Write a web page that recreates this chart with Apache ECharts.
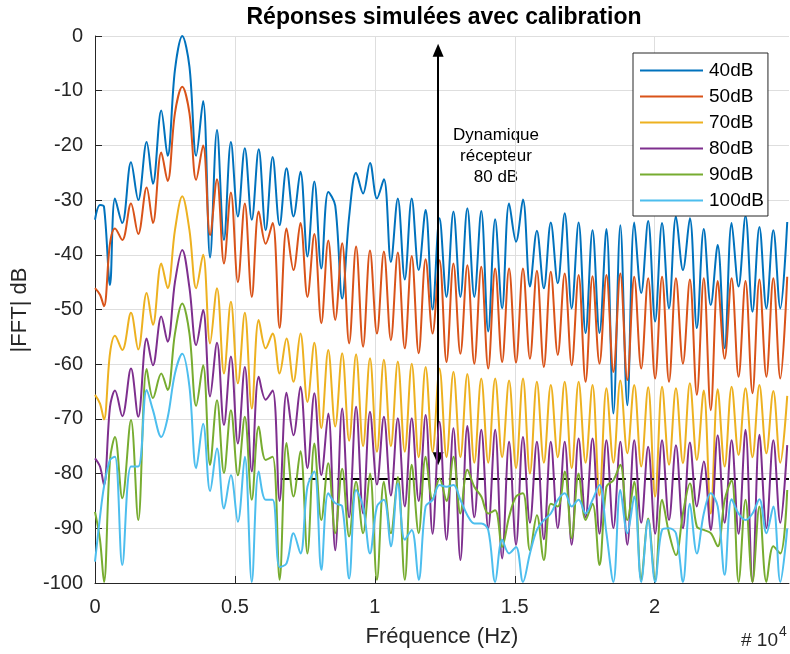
<!DOCTYPE html>
<html><head><meta charset="utf-8">
<script src="https://cdn.jsdelivr.net/npm/echarts@6/dist/echarts.min.js"></script>
<style>html,body{margin:0;padding:0;background:#fff}#c{width:790px;height:654px}</style>
</head><body><div id="c"></div>
<script>
// Frequency points (Hz): left side, main lobe, then alternating null/peak of each side lobe
const freqHz = [0,179,321,536,714,975,1286,1546,1846,2071,2368,2596,2857,3118,3375,
3615,3863,4112,4360,4609,4857,5106,5354,5603,5851,6100,6348,6597,6845,7094,7342,7591,7839,8088,8336,
8585,8833,9082,9330,9579,9827,10076,10324,10573,10821,11070,11318,11567,11815,12064,12312,12561,12809,
13058,13306,13555,13803,14052,14300,14549,14797,15046,15294,15543,15791,16040,16288,16537,16785,17034,17282,
17531,17779,18028,18276,18525,18773,19022,19270,19519,19767,20016,20264,20513,20761,21010,21258,21507,21755,
22004,22252,22501,22749,22998,23246,23495,23743,23992,24240,24489,24737];

const s40dB = [-33.6,-30.9,-31.2,-45.5,-29.7,-34.2,-23.1,-30.0,-19.4,-27,-13.6,-21.9,-6.2,0,-5.6,
-21.9,-11.9,-40.5,-17.2,-37.3,-19.4,-33.0,-20.5,-33.6,-20.7,-35.5,-22.1,-34.6,-24.2,-33.0,-24.8,-40.3,-26.6,-42.5,-28.5,
-31,-48,-33,-25.0,-28.8,-23.2,-29.7,-26.2,-41.3,-29.7,-44.5,-29.7,-42.8,-31.8,-50,-33.3,-47.7,-32.1,
-47.7,-31.5,-47.7,-32.0,-54.0,-33.5,-49.8,-30.6,-37.6,-29.9,-45.8,-35.6,-46.1,-34.1,-45.2,-32.4,-49.8,-34.1,
-54.3,-35.5,-54.3,-35.3,-69.0,-34.6,-67.5,-34.1,-47,-33.8,-52.2,-34.2,-49.8,-33.0,-42.8,-33.3,-53.4,-35.3,
-49.2,-38.2,-57.1,-34.2,-45.8,-32.9,-50.4,-34.9,-49.8,-35.5,-49.8,-34.0];

const s50dB = [-46.1,-47.3,-49.4,-37.9,-35.2,-37.3,-30.6,-36.2,-27.7,-34.2,-21.3,-26.5,-14.1,-9.3,-14.1,
-26.3,-20.0,-36.4,-26.2,-41.6,-28.6,-45,-30.6,-47.7,-32.1,-38,-34.2,-53.4,-35.2,-42.8,-34.2,-47.7,-36.2,-52.5,-37.4,
-51.9,-37.9,-56.2,-38.5,-56.8,-39.2,-54.4,-39.4,-55.6,-39.6,-57.1,-40.2,-58.0,-40.8,-54.4,-41.0,-59.6,-41.6,
-58.1,-41.9,-59.9,-42.2,-60.8,-42.5,-59.6,-42.5,-59.7,-42.5,-59.0,-42.9,-60.5,-43.1,-58.3,-43.4,-60.2,-43.7,
-63.2,-43.9,-59.9,-43.7,-61.4,-43.4,-62.9,-44.0,-60.8,-44.3,-62.6,-44.0,-63.2,-44.3,-59.9,-44.5,-65.6,-44.3,
-68.4,-44.8,-59.0,-44.3,-62.3,-44.8,-65.3,-44.5,-62.3,-44.3,-62.6,-44.0];

const s70dB = [-65.6,-67.2,-70.1,-58.0,-54.8,-57.4,-50.6,-57.3,-47.0,-52.8,-41.6,-46.1,-35.5,-29.3,-35.5,
-46.1,-40.0,-56.2,-46.1,-61.7,-48.6,-63.5,-50.6,-68.1,-51.9,-57.1,-54.4,-61.7,-55.3,-63.2,-54.4,-66.9,-56.1,-71.7,-57.4,
-71.4,-58.0,-74,-58.2,-75,-58.9,-76,-59.2,-75,-59.5,-76,-59.9,-77,-60.5,-76,-60.8,-77,-61.4,
-77,-61.8,-78,-62.6,-78,-62.6,-77,-63.0,-79,-62.6,-80,-63.2,-78,-63.8,-77,-63.2,-79,-63.2,
-78,-63.8,-84,-64.4,-78,-63.0,-76.3,-63.8,-78.7,-64.2,-84.2,-64.1,-78.4,-64.4,-78.1,-63.5,-77.5,-64.8,
-87.3,-64.6,-78.7,-64.1,-76.6,-64.4,-77,-63.8,-76.3,-64.9,-78,-65.8];

const s80dB = [-77.2,-78.7,-82.1,-67.8,-64.8,-69.5,-60.8,-69.6,-55.3,-60.2,-51.3,-55.9,-45,-39.1,-46,
-56.5,-50.1,-65.9,-56.1,-71.1,-58.6,-74.5,-60.5,-79.6,-62.3,-66.5,-64.8,-85,-65.2,-73.0,-64.1,-79,-65.3,-80.3,-69.0,
-94,-68.1,-88,-67.8,-87.3,-68.7,-82,-69.6,-84,-69.9,-86,-69.9,-85,-69.3,-91,-70.5,-92.1,-71.7,
-95.8,-71.3,-88,-72.0,-90,-72.0,-95.5,-74.2,-93.0,-73.3,-89,-74.2,-92,-74.2,-90,-74.2,-93,-73.6,
-88,-73.6,-91,-73.9,-90,-74.2,-93.0,-73.9,-89,-75.1,-91,-73.9,-88.5,-74.8,-90,-74.3,-86.0,-77.8,
-90.3,-73.0,-89,-73.9,-91,-72.0,-99.8,-72.9,-90,-73.9,-89,-74.8];

const s90dB = [-87.0,-92.1,-99.8,-77.5,-73.3,-84.5,-70.2,-88.5,-60.9,-66.2,-61.7,-64.7,-54.4,-48.9,-54.4,
-67.6,-60.2,-78.4,-66.6,-79.9,-68.4,-80.3,-69.6,-84.8,-71.4,-77.5,-76.9,-99.4,-74.4,-84.2,-75.9,-94.6,-74.5,-88.5,-78.1,
-90.9,-79.1,-91.5,-81.5,-90.9,-80.0,-99.4,-81.5,-90.9,-80.6,-99.4,-78.4,-90.9,-76.9,-84.8,-80.9,-85,-76.9,
-87.3,-79.3,-82.4,-84.2,-87.3,-86.7,-93.4,-87.9,-84.2,-83.6,-94,-87.6,-95.8,-85.5,-86.0,-79.6,-91.8,-80.0,
-88.5,-85.5,-96.7,-82.4,-81.2,-78.4,-88.5,-81.5,-99.4,-88.2,-99.4,-84.8,-90.9,-94.9,-87.3,-81.8,-89.7,-90.3,
-90.9,-93.3,-84.8,-81.2,-99.8,-84.8,-99.8,-86.0,-99.8,-93.3,-94.6,-83.0];

const s100dB = [-96.1,-87.9,-82.4,-77.5,-76.9,-96.7,-78.7,-78.7,-64.7,-68.4,-73.3,-69.8,-61.7,-58.1,-64.1,
-79.0,-70.9,-83.2,-75.4,-86.4,-80.3,-88.8,-76.9,-99.8,-79.6,-84.8,-84.8,-97.1,-96.4,-90.9,-94.6,-82.4,-79.6,-97.6,-83.6,
-85.4,-86.0,-99.2,-83.0,-86.0,-94.6,-86.0,-84.8,-93.3,-81.8,-92.1,-90.3,-99.4,-86.0,-84.8,-82.1,-82.4,-82.1,
-84.8,-87.6,-89.1,-89.1,-90.3,-99.8,-92.1,-94.6,-93.4,-99.8,-94.6,-90.3,-88.5,-87.3,-84.8,-83.6,-86.0,-84.8,
-87.3,-84.8,-82.1,-90.9,-99.8,-83.0,-90.9,-84.2,-99.8,-88.5,-99.8,-90.3,-90.0,-90.9,-99.8,-85.5,-94.6,-87.3,
-83.6,-86.0,-98.5,-84.7,-87.3,-88.5,-87.3,-84.7,-90.9,-86.0,-99.8,-90.0];

const seriesNames = ['40dB','50dB','70dB','80dB','90dB','100dB'];
const seriesValues = [s40dB, s50dB, s70dB, s80dB, s90dB, s100dB];
const colors = ['#0072BD','#D95319','#EDB120','#7E2F8E','#77AC30','#4DBEEE'];

// Annotation values
const arrowFreq = 12261, arrowTop = -2.6, arrowBottom = -77.3;
const floorLevel = -80.9, floorStart = 6640, floorEnd = 24800;
const xTicks = [0, 5000, 10000, 15000, 20000];

const chart = echarts.init(document.getElementById('c'), null, {renderer:'canvas'});
const FONT = 'Liberation Sans, Arial, Helvetica, sans-serif';
const series = seriesNames.map((n,i)=>({
  name:n, type:'line', showSymbol:false, symbol:'none', smooth:0.35,
  lineStyle:{width:2, color:colors[i]}, itemStyle:{color:colors[i]},
  data: freqHz.map((f,j)=>[f, seriesValues[i][j]]), silent:true, z:2+i
}));
series.push({
  name:'annot', type:'line', data:[], silent:true, z:20,
  markLine:{silent:true, animation:false, label:{show:false},
    data:[
      [{coord:[arrowFreq, arrowTop], symbol:'triangle', symbolSize:[11,13], lineStyle:{color:'#000',width:2,type:'solid'}},
       {coord:[arrowFreq, arrowBottom], symbol:'triangle', symbolSize:[11,13]}],
      [{coord:[floorStart, floorLevel], symbol:'none', lineStyle:{color:'#000',width:2,type:[9,5]}},
       {coord:[floorEnd, floorLevel], symbol:'none'}]
    ]}
});

chart.setOption({
  animation:false,
  color:colors,
  textStyle:{fontFamily:FONT},
  grid:{left:95, top:36, width:694, height:547, containLabel:false},
  legend:{
    data:seriesNames, orient:'vertical', left:633, top:53,
    backgroundColor:'#fff', borderColor:'#262626', borderWidth:1,
    padding:[8,4,6,7], itemGap:7, itemWidth:63, itemHeight:2, icon:'rect',
    textStyle:{fontSize:19, color:'#000', fontFamily:FONT, padding:[0,0,0,1]},
    selectedMode:false
  },
  xAxis:{type:'value', min:0, max:24800, interval:5000,
    axisLine:{show:true, onZero:false, lineStyle:{color:'#262626', width:1}},
    axisTick:{show:true, inside:true, length:7, lineStyle:{color:'#262626'}},
    axisLabel:{color:'#262626', fontSize:20, margin:14, fontFamily:FONT, showMaxLabel:false,
      formatter:v=> xTicks.indexOf(v)>=0 ? String(v/10000) : ''},
    splitLine:{show:true, showMaxLine:false, lineStyle:{color:'#dedede', width:1}}
  },
  yAxis:{type:'value', min:-100, max:0, interval:10,
    axisLine:{show:true, onZero:false, lineStyle:{color:'#262626', width:1}},
    axisTick:{show:true, inside:true, length:7, lineStyle:{color:'#262626'}},
    axisLabel:{color:'#262626', fontSize:20, margin:12, fontFamily:FONT},
    splitLine:{show:true, lineStyle:{color:'#dedede', width:1}}
  },
  graphic:[
    {type:'text', x:444, y:18, style:{text:'Réponses simulées avec calibration', font:'bold 23px '+FONT, fill:'#000', align:'center', verticalAlign:'middle'}},
    {type:'text', x:442, y:637, style:{text:'Fréquence (Hz)', font:'22px '+FONT, fill:'#262626', align:'center', verticalAlign:'middle'}},
    {type:'text', x:20, y:310, rotation:Math.PI/2, style:{text:'|FFT| dB', font:'22px '+FONT, fill:'#262626', align:'center', verticalAlign:'middle'}},
    {type:'text', x:496, y:156, style:{text:'Dynamique\nrécepteur\n80 dB', font:'17px '+FONT, lineHeight:21, fill:'#000', align:'center', verticalAlign:'middle'}},
    {type:'text', x:778, y:641, style:{text:'# 10', font:'19px '+FONT, fill:'#262626', align:'right', verticalAlign:'middle'}},
    {type:'text', x:779, y:632, style:{text:'4', font:'14px '+FONT, fill:'#262626', align:'left', verticalAlign:'middle'}}
  ],
  series:series
});
</script></body></html>
